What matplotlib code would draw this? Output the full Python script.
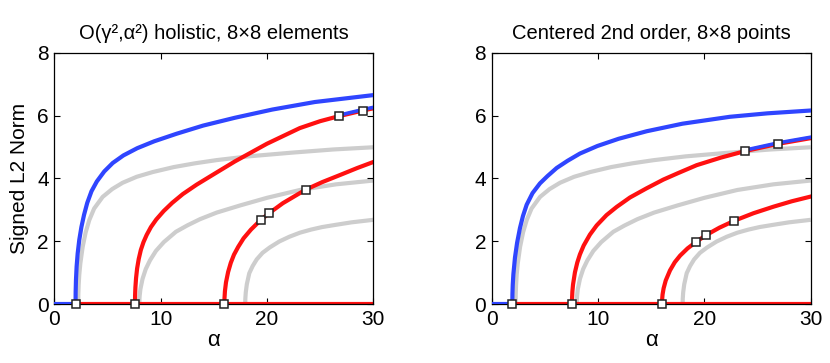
import matplotlib.pyplot as plt
import numpy as np

plt.rcParams['font.family'] = ['Liberation Sans', 'DejaVu Sans']

BLUE = '#2f45ff'
RED = '#ff1010'
GRAY = '#cdcdcd'

# ---- gray reference branches (same in both panels)
g1_x = [2.25, 2.26, 2.29, 2.35, 2.45, 2.67, 2.95, 3.29, 3.75, 4.55, 5.45, 6.43, 7.75, 9.25, 11.25, 13.25, 15.25, 18.25, 22.4, 26.25, 30.0]
g1_y = [0.0, 0.30, 0.59, 0.93, 1.29, 1.82, 2.28, 2.67, 3.04, 3.41, 3.66, 3.86, 4.05, 4.20, 4.36, 4.48, 4.58, 4.70, 4.82, 4.92, 4.99]
g2_x = [8.0, 8.01, 8.03, 8.1, 8.3, 8.6, 9.0, 9.56, 10.3, 11.44, 12.5, 13.7, 15.27, 17.5, 20.0, 23.1, 26.5, 30.0]
g2_y = [0.0, 0.155, 0.26, 0.474, 0.80, 1.11, 1.39, 1.69, 1.97, 2.30, 2.50, 2.70, 2.91, 3.14, 3.38, 3.63, 3.81, 3.93]
g3_x = [17.96, 17.97, 18.01, 18.11, 18.34, 18.66, 19.04, 19.59, 20.26, 21.16, 22.1, 23.1, 24.16, 25.2, 26.46, 27.96, 30.0]
g3_y = [0.0, 0.17, 0.37, 0.63, 0.98, 1.21, 1.42, 1.63, 1.80, 1.99, 2.14, 2.27, 2.37, 2.45, 2.52, 2.60, 2.68]

# ---- left panel: holistic 8x8 elements
lb_x = [2.0, 2.01, 2.04, 2.1, 2.2, 2.35, 2.55, 2.8, 3.1, 3.5, 4.0, 4.7, 5.5, 6.5, 7.8, 9.4, 11.5, 14.0, 17.0, 20.5, 24.5, 30.0]
lb_y = [0.0, 0.39, 0.77, 1.19, 1.61, 2.04, 2.45, 2.84, 3.22, 3.59, 3.90, 4.22, 4.49, 4.73, 4.96, 5.18, 5.42, 5.68, 5.93, 6.19, 6.43, 6.65]
lr2_x = [7.59, 7.60, 7.63, 7.69, 7.79, 7.94, 8.14, 8.39, 8.69, 9.09, 9.59, 10.29, 11.09, 12.09, 13.39, 14.99, 16.99, 19.99, 23.09, 25.0, 26.77, 29.03, 30.0]
lr2_y = [0.0, 0.27, 0.53, 0.82, 1.13, 1.43, 1.72, 1.97, 2.20, 2.45, 2.69, 2.96, 3.22, 3.50, 3.80, 4.13, 4.54, 5.10, 5.60, 5.82, 5.98, 6.16, 6.23]
lr3_x = [16.0, 16.01, 16.05, 16.15, 16.35, 16.6, 16.9, 17.3, 17.8, 18.5, 19.4, 20.2, 21.5, 23.64, 25.2, 26.9, 28.5, 30.0]
lr3_y = [0.0, 0.185, 0.41, 0.69, 1.02, 1.31, 1.57, 1.82, 2.09, 2.37, 2.67, 2.89, 3.21, 3.64, 3.88, 4.11, 4.33, 4.52]
l_stable_from = 26.77
lm_x = [2.0, 7.59, 16.0, 19.4, 20.2, 23.64, 26.77, 29.03]
lm_y = [0.0, 0.0, 0.0, 2.67, 2.89, 3.64, 5.98, 6.16]

# ---- right panel: centered 2nd order, 8x8 points
rb_x = [1.94, 1.95, 1.98, 2.04, 2.19, 2.39, 2.66, 2.94, 3.29, 3.84, 4.54, 5.24, 6.11, 7.14, 8.3, 9.94, 11.94, 14.58, 17.94, 22.4, 25.94, 30.0]
rb_y = [0.0, 0.31, 0.61, 0.95, 1.48, 1.95, 2.42, 2.80, 3.16, 3.53, 3.84, 4.07, 4.33, 4.56, 4.79, 5.03, 5.26, 5.50, 5.74, 5.96, 6.07, 6.16]
rr2_x = [7.55, 7.56, 7.59, 7.65, 7.83, 8.05, 8.3, 8.65, 9.24, 9.87, 10.8, 11.75, 13.0, 14.55, 16.14, 17.55, 19.28, 21.55, 23.85, 26.95, 30.0]
rr2_y = [0.0, 0.2, 0.40, 0.62, 1.01, 1.32, 1.58, 1.86, 2.21, 2.50, 2.83, 3.09, 3.39, 3.68, 3.96, 4.17, 4.42, 4.66, 4.87, 5.10, 5.28]
rr3_x = [16.02, 16.03, 16.07, 16.17, 16.37, 16.77, 17.22, 17.72, 18.42, 19.2, 20.2, 21.42, 22.81, 24.62, 26.52, 28.22, 30.0]
rr3_y = [0.0, 0.135, 0.30, 0.50, 0.75, 1.07, 1.33, 1.54, 1.77, 1.97, 2.20, 2.43, 2.65, 2.89, 3.10, 3.27, 3.42]
r_stable_from = 23.85
rm_x = [1.94, 7.55, 16.02, 19.2, 20.2, 22.81, 23.85, 26.95]
rm_y = [0.0, 0.0, 0.0, 1.97, 2.20, 2.65, 4.87, 5.10]

titles = ['O(\u03b3\u00b2,\u03b1\u00b2) holistic, 8\u00d78 elements', 'Centered 2nd order, 8\u00d78 points']


def panel(ax, bx, by, r2x, r2y, r3x, r3y, stable_from, mx, my, title):
    lw = 3.0
    for gx, gy in [(g1_x, g1_y), (g2_x, g2_y), (g3_x, g3_y)]:
        ax.plot(gx, gy, color=GRAY, lw=lw, solid_capstyle='butt', zorder=1)
    ax.plot([bx[0], 30], [0, 0], color=RED, lw=lw, solid_capstyle='butt', zorder=2)
    ax.plot([0, bx[0]], [0, 0], color=BLUE, lw=lw, solid_capstyle='butt', zorder=3)
    ax.plot(r2x, r2y, color=RED, lw=lw, zorder=2)
    ax.plot(r3x, r3y, color=RED, lw=lw, zorder=2)
    sx = np.array(r2x)
    sy = np.array(r2y)
    keep = sx >= stable_from
    ax.plot(sx[keep], sy[keep] + 0.03, color=BLUE, lw=lw - 0.4, zorder=3)
    ax.plot(bx, by, color=BLUE, lw=lw, zorder=3)
    ax.plot(mx, my, 's', ms=6, mfc='white', mec='#222222', mew=1.1, zorder=5, clip_on=False)
    ax.set_xlim(0, 30)
    ax.set_ylim(0, 8)
    ax.set_xticks([0, 10, 20, 30])
    ax.set_yticks([0, 2, 4, 6, 8])
    ax.tick_params(direction='in', top=True, right=True, length=4, width=0.8, labelsize=15, pad=4)
    for s in ax.spines.values():
        s.set_linewidth(0.9)
    ax.set_title(title, fontsize=14.5, pad=10)
    ax.set_xlabel('\u03b1', fontsize=16, labelpad=1)


fig = plt.figure(figsize=(8.3, 3.63), dpi=100)
ax1 = fig.add_axes([0.0654, 0.1625, 0.3843, 0.6923])
ax2 = fig.add_axes([0.5924, 0.1625, 0.3843, 0.6923])

panel(ax1, lb_x, lb_y, lr2_x, lr2_y, lr3_x, lr3_y, l_stable_from, lm_x, lm_y, titles[0])
panel(ax2, rb_x, rb_y, rr2_x, rr2_y, rr3_x, rr3_y, r_stable_from, rm_x, rm_y, titles[1])
ax1.set_ylabel('Signed L2 Norm', fontsize=15, labelpad=6)

fig.savefig('out.png', dpi=100)
